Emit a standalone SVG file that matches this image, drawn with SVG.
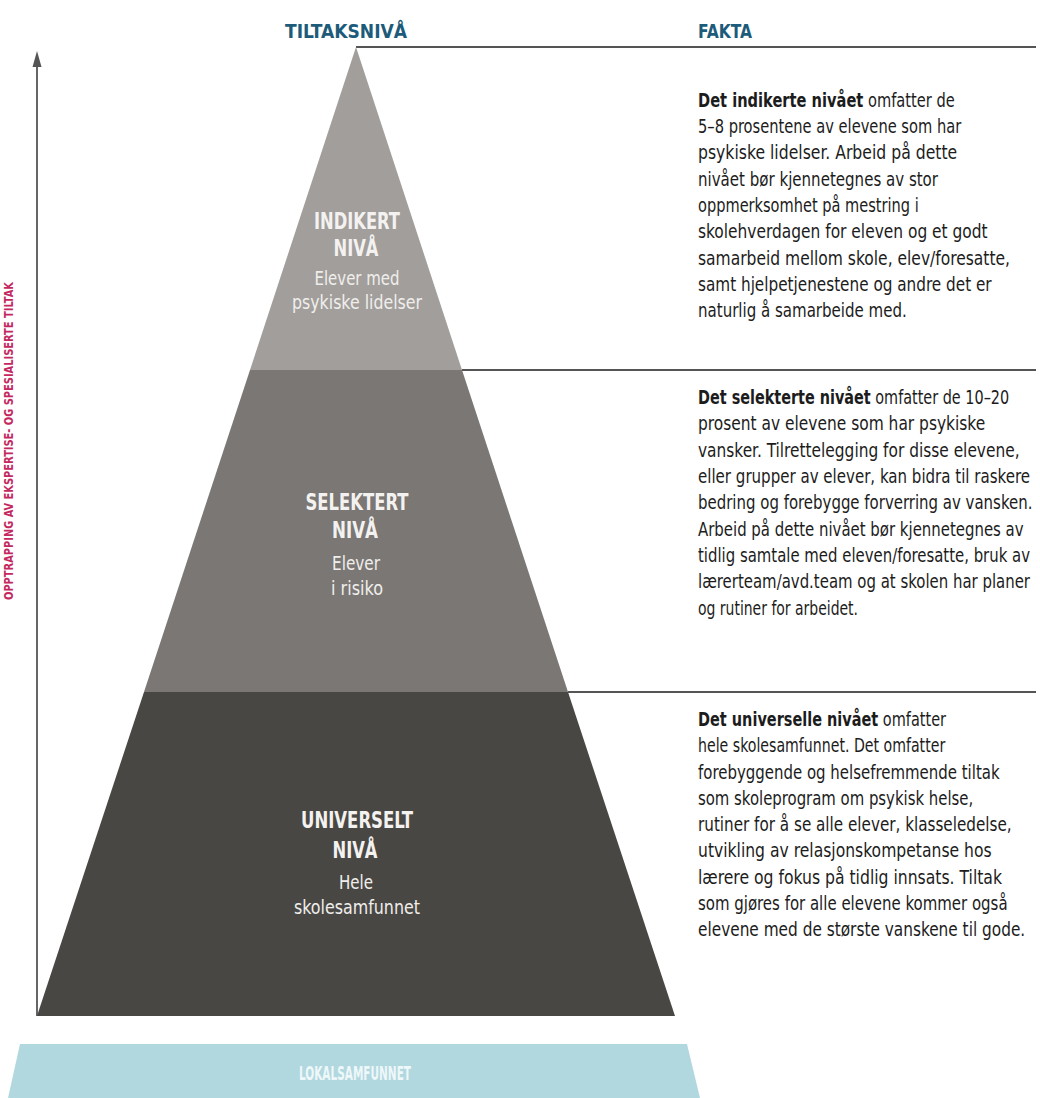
<svg xmlns="http://www.w3.org/2000/svg" width="1040" height="1098" viewBox="0 0 1040 1098">
<defs>
<style>
.head{font-family:'DejaVu Sans Condensed','Liberation Sans Narrow','Liberation Sans',sans-serif;font-weight:bold;font-size:20px;fill:#1d5b7a}
.body{font-family:'DejaVu Sans Condensed','Liberation Sans Narrow','Liberation Sans',sans-serif;font-size:19.5px;fill:#1c1c1c}
.b{font-weight:bold}
.lvl{font-family:'DejaVu Sans Condensed','Liberation Sans Narrow','Liberation Sans',sans-serif;font-weight:bold;font-size:23px;fill:#f4f2f0;text-anchor:middle}
.sub{font-family:'DejaVu Sans Condensed','Liberation Sans Narrow','Liberation Sans',sans-serif;font-size:19.5px;fill:#f0eeec;text-anchor:middle}
.rule{stroke:#555555;stroke-width:1.8;fill:none}
</style>
</defs>
<rect width="1040" height="1098" fill="#ffffff"/>

<g id="headings">
<text class="head" x="346" y="38" text-anchor="middle" textLength="122" lengthAdjust="spacingAndGlyphs">TILTAKSNIVÅ</text>
<text class="head" x="698" y="38" textLength="54" lengthAdjust="spacingAndGlyphs">FAKTA</text>
</g>

<g id="connectors">
<line class="rule" x1="356" y1="47" x2="1036" y2="47"/>
<line class="rule" x1="462" y1="370" x2="1036" y2="370"/>
<line class="rule" x1="568" y1="692" x2="1036" y2="692"/>
<line class="rule" x1="37" y1="1016" x2="37" y2="62"/>
<polygon points="37,51 32.5,67 41.5,67" fill="#555555"/>
</g>

<g id="axis-label">
<text transform="translate(13,441) rotate(-90)" text-anchor="middle" font-family="'DejaVu Sans Condensed','Liberation Sans',sans-serif" font-weight="bold" font-size="12.5" fill="#c4285f" textLength="318" lengthAdjust="spacingAndGlyphs">OPPTRAPPING AV EKSPERTISE- OG SPESIALISERTE TILTAK</text>
</g>

<g id="indikert">
<polygon points="356,47 462,370 250,370" fill="#a19e9b"/>
<text class="lvl" x="357" y="229" textLength="86" lengthAdjust="spacingAndGlyphs">INDIKERT</text>
<text class="lvl" x="356" y="256" textLength="45" lengthAdjust="spacingAndGlyphs">NIVÅ</text>
<text class="sub" x="357" y="285" textLength="85" lengthAdjust="spacingAndGlyphs">Elever med</text>
<text class="sub" x="357" y="309" textLength="130" lengthAdjust="spacingAndGlyphs">psykiske lidelser</text>
</g>

<g id="selektert">
<polygon points="250,370 462,370 568,692 144,692" fill="#7a7774"/>
<text class="lvl" x="357" y="510" textLength="103" lengthAdjust="spacingAndGlyphs">SELEKTERT</text>
<text class="lvl" x="355" y="538" textLength="46" lengthAdjust="spacingAndGlyphs">NIVÅ</text>
<text class="sub" x="356" y="570" textLength="48" lengthAdjust="spacingAndGlyphs">Elever</text>
<text class="sub" x="357" y="595" textLength="52" lengthAdjust="spacingAndGlyphs">i risiko</text>
</g>

<g id="universelt">
<polygon points="144,692 568,692 675,1016 37,1016" fill="#494744"/>
<text class="lvl" x="357" y="828" textLength="112" lengthAdjust="spacingAndGlyphs">UNIVERSELT</text>
<text class="lvl" x="355" y="858" textLength="45" lengthAdjust="spacingAndGlyphs">NIVÅ</text>
<text class="sub" x="356" y="889" textLength="34" lengthAdjust="spacingAndGlyphs">Hele</text>
<text class="sub" x="357" y="914" textLength="126" lengthAdjust="spacingAndGlyphs">skolesamfunnet</text>
</g>

<g id="lokalsamfunnet">
<polygon points="20,1044 687,1044 700,1098 8,1098" fill="#b2d8df"/>
<text x="355" y="1080" text-anchor="middle" font-family="'DejaVu Sans Condensed','Liberation Sans Narrow','Liberation Sans',sans-serif" font-weight="bold" font-size="19" fill="#eef7f9" textLength="112" lengthAdjust="spacingAndGlyphs">LOKALSAMFUNNET</text>
</g>

<g id="fakta-indikert" class="body">
<text transform="translate(698 107) scale(0.8 1)" textLength="321" lengthAdjust="spacingAndGlyphs"><tspan class="b">Det indikerte nivået</tspan> omfatter de</text>
<text transform="translate(698 133) scale(0.8 1)" textLength="329" lengthAdjust="spacingAndGlyphs">5–8 prosentene av elevene som har</text>
<text transform="translate(698 159) scale(0.8 1)" textLength="324" lengthAdjust="spacingAndGlyphs">psykiske lidelser. Arbeid på dette</text>
<text transform="translate(698 186) scale(0.8 1)" textLength="300" lengthAdjust="spacingAndGlyphs">nivået bør kjennetegnes av stor</text>
<text transform="translate(698 212) scale(0.8 1)" textLength="276" lengthAdjust="spacingAndGlyphs">oppmerksomhet på mestring i</text>
<text transform="translate(698 238) scale(0.8 1)" textLength="362" lengthAdjust="spacingAndGlyphs">skolehverdagen for eleven og et godt</text>
<text transform="translate(698 265) scale(0.8 1)" textLength="390" lengthAdjust="spacingAndGlyphs">samarbeid mellom skole, elev/foresatte,</text>
<text transform="translate(698 291) scale(0.8 1)" textLength="367" lengthAdjust="spacingAndGlyphs">samt hjelpetjenestene og andre det er</text>
<text transform="translate(698 317) scale(0.8 1)" textLength="261" lengthAdjust="spacingAndGlyphs">naturlig å samarbeide med.</text>
</g>

<g id="fakta-selektert" class="body">
<text transform="translate(698 404) scale(0.8 1)" textLength="389" lengthAdjust="spacingAndGlyphs"><tspan class="b">Det selekterte nivået</tspan> omfatter de 10–20</text>
<text transform="translate(698 430) scale(0.8 1)" textLength="359" lengthAdjust="spacingAndGlyphs">prosent av elevene som har psykiske</text>
<text transform="translate(698 457) scale(0.8 1)" textLength="402" lengthAdjust="spacingAndGlyphs">vansker. Tilrettelegging for disse elevene,</text>
<text transform="translate(698 483) scale(0.8 1)" textLength="415" lengthAdjust="spacingAndGlyphs">eller grupper av elever, kan bidra til raskere</text>
<text transform="translate(698 509) scale(0.8 1)" textLength="418" lengthAdjust="spacingAndGlyphs">bedring og forebygge forverring av vansken.</text>
<text transform="translate(698 536) scale(0.8 1)" textLength="407" lengthAdjust="spacingAndGlyphs">Arbeid på dette nivået bør kjennetegnes av</text>
<text transform="translate(698 562) scale(0.8 1)" textLength="415" lengthAdjust="spacingAndGlyphs">tidlig samtale med eleven/foresatte, bruk av</text>
<text transform="translate(698 588) scale(0.8 1)" textLength="415" lengthAdjust="spacingAndGlyphs">lærerteam/avd.team og at skolen har planer</text>
<text transform="translate(698 615) scale(0.8 1)" textLength="200" lengthAdjust="spacingAndGlyphs">og rutiner for arbeidet.</text>
</g>

<g id="fakta-universelt" class="body">
<text transform="translate(698 726) scale(0.8 1)" textLength="310" lengthAdjust="spacingAndGlyphs"><tspan class="b">Det universelle nivået</tspan> omfatter</text>
<text transform="translate(698 752) scale(0.8 1)" textLength="309" lengthAdjust="spacingAndGlyphs">hele skolesamfunnet. Det omfatter</text>
<text transform="translate(698 779) scale(0.8 1)" textLength="377" lengthAdjust="spacingAndGlyphs">forebyggende og helsefremmende tiltak</text>
<text transform="translate(698 805) scale(0.8 1)" textLength="344" lengthAdjust="spacingAndGlyphs">som skoleprogram om psykisk helse,</text>
<text transform="translate(698 831) scale(0.8 1)" textLength="392" lengthAdjust="spacingAndGlyphs">rutiner for å se alle elever, klasseledelse,</text>
<text transform="translate(698 857) scale(0.8 1)" textLength="367" lengthAdjust="spacingAndGlyphs">utvikling av relasjonskompetanse hos</text>
<text transform="translate(698 884) scale(0.8 1)" textLength="380" lengthAdjust="spacingAndGlyphs">lærere og fokus på tidlig innsats. Tiltak</text>
<text transform="translate(698 910) scale(0.8 1)" textLength="387" lengthAdjust="spacingAndGlyphs">som gjøres for alle elevene kommer også</text>
<text transform="translate(698 936) scale(0.8 1)" textLength="409" lengthAdjust="spacingAndGlyphs">elevene med de største vanskene til gode.</text>
</g>
</svg>
